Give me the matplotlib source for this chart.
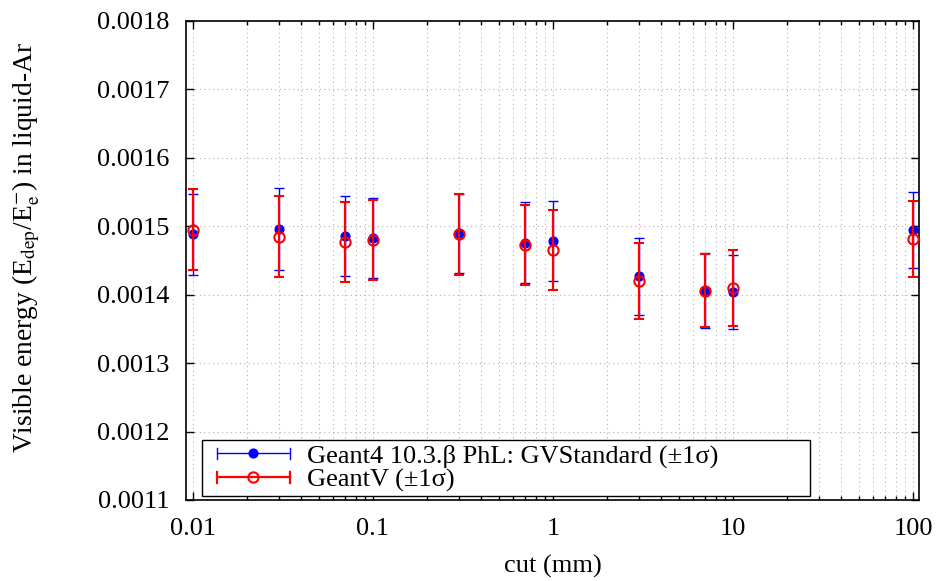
import matplotlib
matplotlib.use("Agg")
import matplotlib.pyplot as plt
from matplotlib.lines import Line2D
from matplotlib.legend_handler import HandlerBase
from matplotlib.ticker import FixedLocator, LogLocator, NullFormatter, FixedFormatter

plt.rcParams['font.family'] = ['Liberation Serif', 'DejaVu Serif']
plt.rcParams['mathtext.fontset'] = 'stix'
plt.rcParams['font.size'] = 19

# data
cuts = [0.01, 0.03, 0.07, 0.1, 0.3, 0.7, 1, 3, 7, 10, 100]
g4_vals = [0.001488, 0.001496, 0.001486, 0.001483, 0.001490, 0.001476,
           0.001479, 0.001427, 0.001406, 0.001404, 0.001495]
g4_err = [0.0000596, 0.0000594, 0.0000586, 0.0000586, 0.0000577, 0.0000591,
          0.0000584, 0.0000560, 0.0000543, 0.0000543, 0.0000555]
gv_vals = [0.001495, 0.001485, 0.001477, 0.001480, 0.001488, 0.001472,
           0.001465, 0.001420, 0.001406, 0.001410, 0.001482]
gv_err = [0.0000596, 0.0000596, 0.0000584, 0.0000589, 0.0000596, 0.0000584,
          0.0000582, 0.0000553, 0.0000538, 0.0000550, 0.0000555]
xticks = [0.01, 0.1, 1, 10, 100]
xtick_labels = ['0.01', '0.1', '1', '10', '100']
yticks = [0.0011, 0.0012, 0.0013, 0.0014, 0.0015, 0.0016, 0.0017, 0.0018]
ytick_labels = ['0.0011', '0.0012', '0.0013', '0.0014', '0.0015', '0.0016', '0.0017', '0.0018']
labels = ['Geant4 10.3.β PhL: GVStandard (±1σ)', 'GeantV (±1σ)']


class HErrHandler(HandlerBase):
    """Legend key drawn as a horizontal error bar with end caps and a centre marker."""
    def create_artists(self, legend, orig_handle, xdescent, ydescent, width,
                       height, fontsize, trans):
        c = orig_handle.get_color()
        lw = orig_handle.get_linewidth()
        y = height / 2.0 - ydescent
        x0 = -xdescent + width * 11 / 90
        x1 = -xdescent + width * 84 / 90
        cap = height * 0.3
        line = Line2D([x0, x1], [y, y], color=c, lw=lw, transform=trans)
        c0 = Line2D([x0, x0], [y - cap, y + cap], color=c, lw=lw, transform=trans)
        c1 = Line2D([x1, x1], [y - cap, y + cap], color=c, lw=lw, transform=trans)
        m = Line2D([(x0 + x1) / 2], [y], marker=orig_handle.get_marker(),
                   ms=orig_handle.get_markersize(),
                   mfc=orig_handle.get_markerfacecolor(),
                   mec=orig_handle.get_markeredgecolor(),
                   mew=orig_handle.get_markeredgewidth(),
                   linestyle='none', transform=trans)
        return [line, c0, c1, m]


fig = plt.figure(figsize=(9.37, 5.81), dpi=100)
ax = fig.add_axes([186/937, 1-500/581, 733/937, 479/581])

ax.set_xscale('log')
ax.set_xlim(10**(-2-7/180), 10**(2+6/180))
ax.set_ylim(0.0011, 0.0018)

ax.errorbar(cuts, g4_vals, yerr=g4_err, fmt='o', color='#0000ff', ms=6.3,
            mec='#0000ff', mfc='#0000ff', elinewidth=1.0, capsize=3.6, capthick=1.0,
            zorder=3)
ax.errorbar(cuts, gv_vals, yerr=gv_err, fmt='o', color='#ff0000', ms=7.4,
            mec='#ff0000', mfc='none', mew=1.5, elinewidth=1.6, capsize=3.6, capthick=1.6,
            zorder=4)

h1 = Line2D([], [], color='#0000ff', lw=1.0, marker='o', ms=6.3, mfc='#0000ff', mec='#0000ff')
h2 = Line2D([], [], color='#ff0000', lw=1.6, marker='o', ms=7.4, mfc='none', mec='#ff0000', mew=1.5)

ax.xaxis.set_major_locator(FixedLocator(xticks))
ax.xaxis.set_major_formatter(FixedFormatter(xtick_labels))
ax.xaxis.set_minor_locator(LogLocator(base=10, subs=range(2, 10)))
ax.xaxis.set_minor_formatter(NullFormatter())
ax.yaxis.set_major_locator(FixedLocator(yticks))
ax.yaxis.set_major_formatter(FixedFormatter(ytick_labels))
ax.yaxis.set_minor_locator(FixedLocator([]))

ax.tick_params(which='both', direction='in', top=True, right=True, width=1.0)
ax.tick_params(which='major', length=6)
ax.tick_params(which='minor', length=3)
ax.tick_params(axis='x', which='major', pad=13)
ax.tick_params(axis='y', which='major', pad=12)

ax.grid(True, which='major', axis='both', color='#b0b0b0', linestyle=(0, (1, 3)), linewidth=0.8)
ax.grid(True, which='minor', axis='x', color='#b0b0b0', linestyle=(0, (1, 3)), linewidth=0.8)
ax.set_axisbelow(True)

for s in ax.spines.values():
    s.set_linewidth(1.2)

ax.set_xlabel('cut (mm)')
ax.set_ylabel('Visible energy (E$_{\\mathrm{dep}}$/E$_{\\mathrm{e}}^{\\mathrm{-}}$) in liquid-Ar',
              fontsize=19.8)
ax.xaxis.set_label_coords(0.5, -0.115)
ax.yaxis.set_label_coords(-0.196, 0.527)

leg = ax.legend([h1, h2], labels, handler_map={Line2D: HErrHandler()},
                loc='lower left', bbox_to_anchor=(0.0218, 0.0084, 0.829, 0.117),
                mode='expand', borderaxespad=0, frameon=True, fancybox=False,
                edgecolor='black', framealpha=1, handlelength=3.4, handletextpad=0.42,
                borderpad=0.15, labelspacing=0.0)
leg.get_frame().set_linewidth(1.0)

fig.savefig('out.png', dpi=100)
